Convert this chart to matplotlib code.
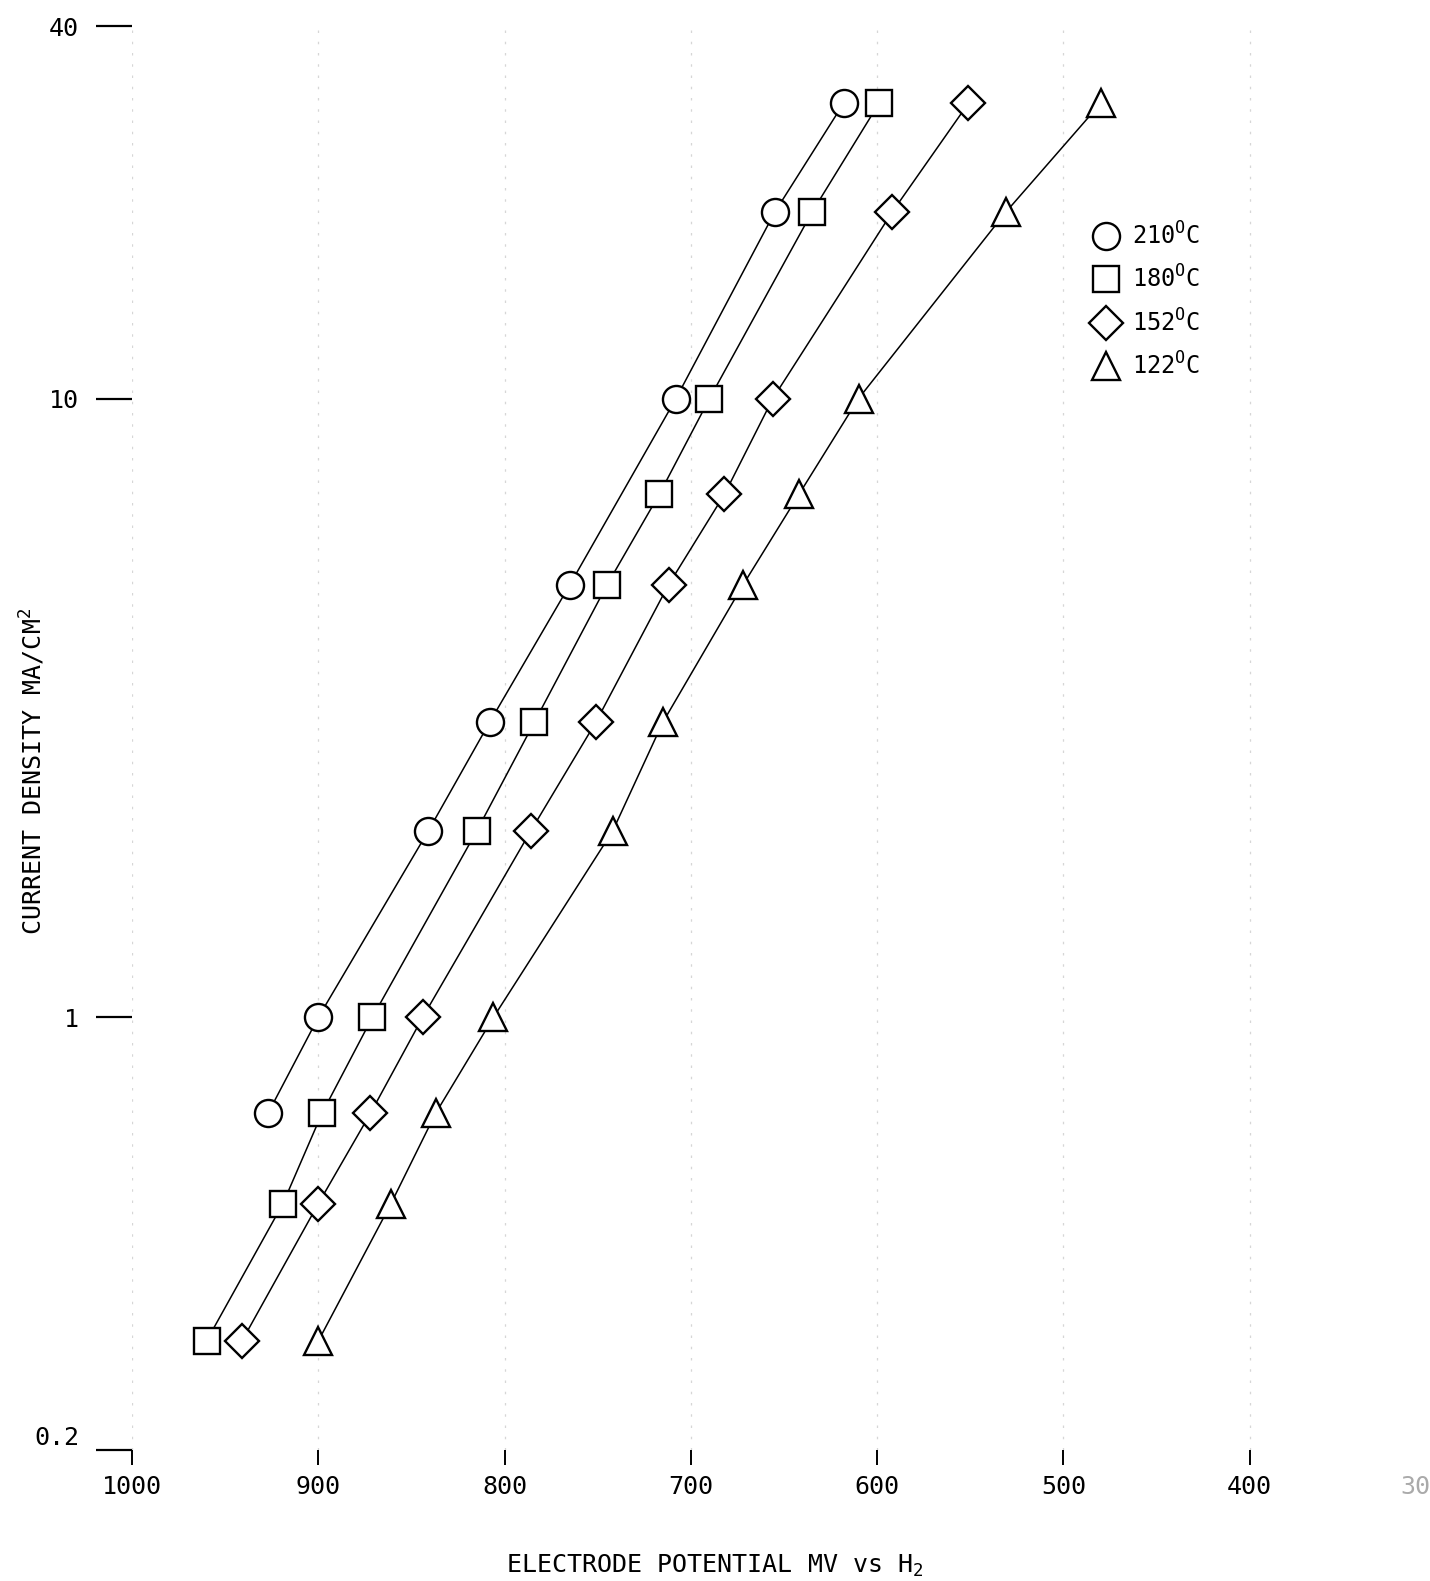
import matplotlib
matplotlib.use("Agg")
import matplotlib.pyplot as plt
from matplotlib.lines import Line2D
from matplotlib.ticker import NullLocator

# ---- data (electrode potential mV vs H2, current density mA/cm2) ----
pot_210 = [618, 655, 708, 765, 808, 841, 900, 927]
cd_210 = [30, 20, 10, 5, 3, 2, 1, 0.7]

pot_180 = [599, 635, 690, 717, 745, 784, 815, 871, 898, 919, 960]
cd_180 = [30, 20, 10, 7, 5, 3, 2, 1, 0.7, 0.5, 0.3]

pot_152 = [551, 592, 656, 682, 712, 751, 786, 844, 872, 900, 941]
cd_152 = [30, 20, 10, 7, 5, 3, 2, 1, 0.7, 0.5, 0.3]

pot_122 = [480, 531, 610, 642, 672, 715, 742, 806, 837, 861, 900]
cd_122 = [30, 20, 10, 7, 5, 3, 2, 1, 0.7, 0.5, 0.3]

series_labels = ["210$^{\\mathrm{O}}$C", "180$^{\\mathrm{O}}$C",
                 "152$^{\\mathrm{O}}$C", "122$^{\\mathrm{O}}$C"]
x_ticks = [1000, 900, 800, 700, 600, 500, 400]
x_ticklabels = ["1000", "900", "800", "700", "600", "500", "400"]
x_cut_label = "300"
y_ticks = [40, 10, 1, 0.2]
y_ticklabels = ["40", "10", "1", ""]
y_low_label = "0.2"

plt.rcParams["font.family"] = ["DejaVu Sans Mono", "DejaVu Sans"]
plt.rcParams["mathtext.fontset"] = "custom"
plt.rcParams["mathtext.rm"] = "DejaVu Sans Mono"
plt.rcParams["mathtext.it"] = "DejaVu Sans Mono"
plt.rcParams["mathtext.bf"] = "DejaVu Sans Mono"

W, H = 1430, 1581
fig = plt.figure(figsize=(W / 100, H / 100), dpi=100)
left, right = 132, 1436
top, bottom = 26, 1450
ax = fig.add_axes([left / W, (H - bottom) / H, (right - left) / W, (bottom - top) / H])

ax.set_yscale("log")
ax.set_xlim(1000, 300)
ax.set_ylim(0.2, 40)

for s in ax.spines.values():
    s.set_visible(False)

# faint scanned grid remnants
ax.grid(axis="x", color="#d6d6d6", linestyle=(0, (2, 7)), linewidth=0.9)
ax.set_axisbelow(True)

common = dict(color="black", linewidth=1.1, markerfacecolor="white",
              markeredgecolor="black", markeredgewidth=1.7, zorder=3)
ax.plot(pot_210, cd_210, marker="o", markersize=19.5, **common)
ax.plot(pot_180, cd_180, marker="s", markersize=19.0, **common)
ax.plot(pot_152, cd_152, marker="D", markersize=17.5, **common)
ax.plot(pot_122, cd_122, marker="^", markersize=20.5, **common)

TICKFS = 18
ax.set_xticks(x_ticks)
ax.set_xticklabels(x_ticklabels)
ax.set_yticks(y_ticks)
ax.set_yticklabels(y_ticklabels)
ax.yaxis.set_minor_locator(NullLocator())
ax.tick_params(axis="y", direction="out", length=26, width=1.6, pad=12,
               labelsize=TICKFS, colors="black")
ax.tick_params(axis="x", direction="out", length=11, width=1.4, pad=7,
               labelsize=TICKFS, colors="black")

# "0.2" label sits slightly above its tick dash in the original
ax.annotate(y_low_label, xy=(0, 0.2), xycoords=("axes fraction", "data"),
            xytext=(-38, 8.5), textcoords="offset points",
            ha="right", va="center", fontsize=TICKFS)
# faint, cut-off "300" label at the right edge
ax.annotate(x_cut_label, xy=(300, 0), xycoords=("data", "axes fraction"),
            xytext=(-9.5, -18), textcoords="offset points",
            ha="center", va="top", fontsize=TICKFS, color="#aaaaaa",
            annotation_clip=False)

fig.text(715 / W, (H - 1566) / H, "ELECTRODE POTENTIAL MV vs H$_2$",
         ha="center", va="center", fontsize=18)
fig.text(33 / W, (H - 771) / H, "CURRENT DENSITY MA/CM$^2$", rotation=90,
         ha="center", va="center", fontsize=18)

markers = ["o", "s", "D", "^"]
msizes = [19.5, 19.0, 17.5, 20.5]
handles = [Line2D([], [], linestyle="none", marker=m, markersize=ms,
                  markerfacecolor="white", markeredgecolor="black",
                  markeredgewidth=1.7) for m, ms in zip(markers, msizes)]
fig.legend(handles, series_labels, loc="upper left",
           bbox_to_anchor=(1092 / W, 1 - 222 / H), bbox_transform=fig.transFigure,
           frameon=False, fontsize=17, handlelength=1.2, handletextpad=0.5,
           borderpad=0, borderaxespad=0, labelspacing=0.69)

fig.savefig("out.png", dpi=100, facecolor="white")
